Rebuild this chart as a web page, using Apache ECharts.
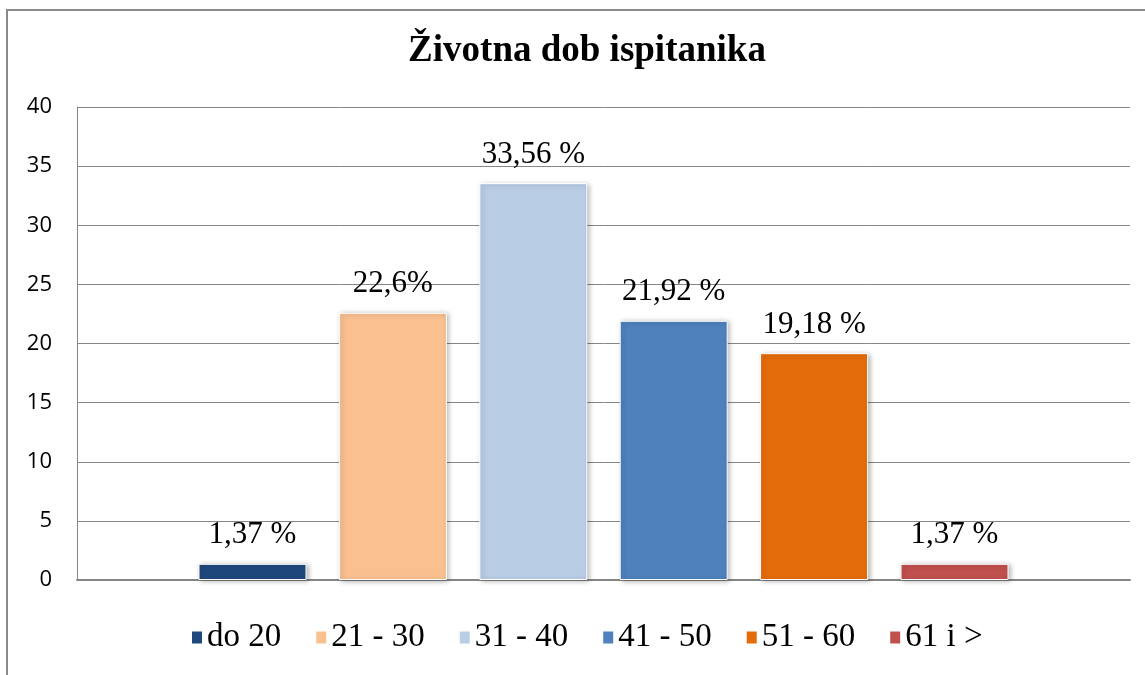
<!DOCTYPE html>
<html lang="hr">
  <head>
    <meta charset="UTF-8" />
    <title>Životna dob ispitanika</title>
    <script src="https://cdn.jsdelivr.net/npm/echarts@6.0.0/dist/echarts.min.js"></script>
  </head>
  <body style="margin: 0; overflow: hidden">
    <div id="main" style="width: 1145px; height: 675px"></div>
    <script type="text/javascript">
      // age groups, bar heights (percent) and the labels shown above them
      const ageGroups = ["do 20", "21 - 30", "31 - 40", "41 - 50", "51 - 60", "61 i >"];
      const values = [1.37, 22.6, 33.56, 21.92, 19.18, 1.37];
      const valueLabels = ["1,37 %", "22,6%", "33,56 %", "21,92 %", "19,18 %", "1,37 %"];
      const colors = ["#1F497D", "#FAC090", "#B9CDE5", "#4F81BD", "#E46C0A", "#C0504D"];
      const yTicks = [0, 5, 10, 15, 20, 25, 30, 35, 40];

      const serif = "'Liberation Serif', 'Times New Roman', serif";

      var myChart = echarts.init(document.getElementById("main"));

      var series = ageGroups.map((name, i) => ({
        name: name,
        type: "bar",
        data: [values[i]],
        barWidth: 108,
        barGap: "30%",
        itemStyle: {
          color: colors[i],
          borderColor: "#ffffff",
          borderWidth: 1,
          shadowBlur: 5,
          shadowColor: "rgba(0,0,0,0.3)",
          shadowOffsetX: 2,
          shadowOffsetY: 1
        },
        label: {
          show: true,
          position: "top",
          distance: 13,
          formatter: () => valueLabels[i],
          fontFamily: serif,
          fontSize: 31,
          color: "#000"
        }
      }));

      var option = {
        animation: false,
        backgroundColor: "#fff",
        title: {
          text: "Životna dob ispitanika",
          left: 582,
          top: 28,
          textAlign: "center",
          textStyle: {
            fontFamily: serif,
            fontWeight: "bold",
            fontSize: 37,
            color: "#000"
          }
        },
        legend: {
          data: ageGroups,
          bottom: 16,
          left: 185,
          icon: "rect",
          itemWidth: 12,
          itemHeight: 14,
          itemGap: 33,
          textStyle: {
            fontFamily: serif,
            fontSize: 33,
            color: "#000",
            padding: [0, 0, 0, -1]
          }
        },
        grid: {
          left: 77,
          right: 15,
          top: 107,
          bottom: 95
        },
        xAxis: {
          type: "category",
          data: [""],
          axisLine: { lineStyle: { color: "#868686", width: 2 } },
          axisTick: { show: false },
          axisLabel: { show: false },
          splitLine: { show: false }
        },
        yAxis: {
          type: "value",
          min: yTicks[0],
          max: yTicks[yTicks.length - 1],
          interval: 5,
          axisLine: { show: true, lineStyle: { color: "#868686", width: 1 } },
          axisTick: { show: false },
          axisLabel: {
            fontFamily: "'Open Sans', 'Liberation Sans', sans-serif",
            fontSize: 22,
            color: "#000",
            margin: 25
          },
          splitLine: { lineStyle: { color: "#868686", width: 1 } }
        },
        graphic: [
          {
            type: "polyline",
            shape: { points: [[7, 700], [7, 10], [1200, 10]] },
            style: { fill: null, stroke: "#8a8a8a", lineWidth: 2 },
            silent: true
          }
        ],
        series: series
      };

      myChart.setOption(option);
    </script>
  </body>
</html>
